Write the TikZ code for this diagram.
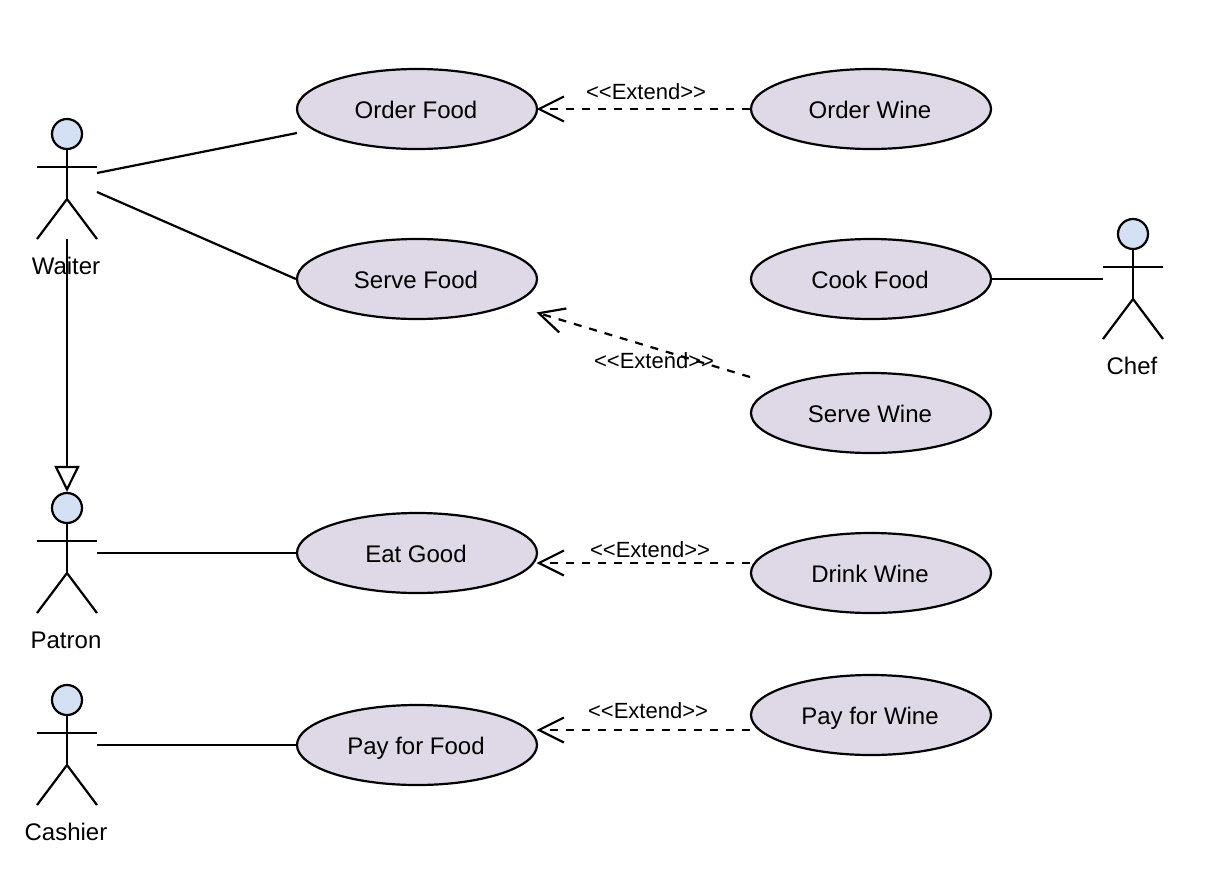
\documentclass[tikz,border=0pt]{standalone}
\usepackage{fontspec}
\setmainfont{Liberation Sans}
\usetikzlibrary{shapes.geometric,arrows.meta}
\definecolor{usecasefill}{HTML}{DFD8E6}
\definecolor{headfill}{HTML}{D4E1F5}
\tikzset{
  usecase/.style={ellipse,draw=black,fill=usecasefill,line width=2.2pt,minimum width=240pt,minimum height=80pt,inner sep=0pt,text height=19pt,text depth=0pt,execute at begin node=\hspace*{-2pt},font=\fontsize{24}{28}\selectfont},
  head/.style={circle,draw=black,fill=headfill,line width=2.2pt,minimum size=30pt,inner sep=0pt},
  limb/.style={line width=2.2pt,line cap=butt},
  actorlabel/.style={inner sep=0pt,text height=19pt,text depth=0pt,font=\fontsize{24}{28}\selectfont},
  extendlabel/.style={inner sep=0pt,font=\fontsize{22}{26}\selectfont},
  assoc/.style={line width=2.2pt},
  extendarrow/.style={line width=2.2pt,dash pattern=on 8pt off 8pt,-{Straight Barb[length=25pt,width=25pt,line width=2.2pt]}},
  inherit/.style={line width=2.2pt,-{Triangle[open,length=26pt,width=25pt,fill=white,line width=2.2pt]}}
}
\newcommand{\stickman}[3]{%
  \node[head] (#1head) at (#2,#3) {};
  \coordinate (#1arml) at (#2-30,#3+33);
  \coordinate (#1armr) at (#2+30,#3+33);
  \coordinate (#1chest) at (#2,#3+33);
  \coordinate (#1hip) at (#2,#3+65);
  \coordinate (#1footl) at (#2-30,#3+105);
  \coordinate (#1footr) at (#2+30,#3+105);
  \draw[limb] (#1head.south) -- (#1hip);
  \draw[limb] (#1arml) -- (#1armr);
  \draw[limb] (#1footl) -- (#1hip) -- (#1footr);
}
\begin{document}
\begin{tikzpicture}[x=1pt,y=-1pt]
\useasboundingbox (0,0) rectangle (1206,878);
% use cases
\node[usecase] (orderfood) at (417,109) {Order Food};
\node[usecase] (servefood) at (417,279) {Serve Food};
\node[usecase] (eatgood) at (417,553) {Eat Good};
\node[usecase] (payfood) at (417,745) {Pay for Food};
\node[usecase] (orderwine) at (871,109) {Order Wine};
\node[usecase] (cookfood) at (871,279) {Cook Food};
\node[usecase] (servewine) at (871,413) {Serve Wine};
\node[usecase] (drinkwine) at (871,573) {Drink Wine};
\node[usecase] (paywine) at (871,715) {Pay for Wine};
% actors
\stickman{waiter}{67}{134}
\stickman{chef}{1133}{234}
\stickman{patron}{67}{508}
\stickman{cashier}{67}{700}
\node[actorlabel] (waiterlabel) at (66,264.5) {Waiter};
\node[actorlabel] (cheflabel) at (1132,364.5) {Chef};
\node[actorlabel] (patronlabel) at (66,638.5) {Patron};
\node[actorlabel] (cashierlabel) at (66,830.5) {Cashier};
% free ends
\coordinate (waiterA) at (97,173);
\coordinate (waiterB) at (97,192);
\coordinate (orderfoodA) at (297,133);
\coordinate (waiterBase) at (67,239);
\coordinate (patronA) at (97,553);
\coordinate (cashierA) at (97,745);
\coordinate (chefA) at (1103,279);
\coordinate (ow) at (750,109);
\coordinate (ofe) at (536.5,109);
\coordinate (sw) at (750,377);
\coordinate (sfe) at (536.5,312.5);
\coordinate (dw) at (750,563);
\coordinate (ege) at (536.5,563);
\coordinate (pw) at (750,730);
\coordinate (pfe) at (536.5,730);
% associations
\draw[assoc] (waiterA) -- (orderfoodA);
\draw[assoc] (waiterB) -- (servefood.west);
\draw[assoc] (patronA) -- (eatgood.west);
\draw[assoc] (cashierA) -- (payfood.west);
\draw[assoc] (cookfood.east) -- (chefA);
\draw[inherit] (waiterBase) -- (patronhead.north);
% extends
\draw[extendarrow] (ow) -- (ofe);
\draw[extendarrow] (sw) -- (sfe);
\draw[extendarrow] (dw) -- (ege);
\draw[extendarrow] (pw) -- (pfe);
\node[extendlabel] (ext1) at (646,92) {<{}<Extend>{}>};
\node[extendlabel] (ext2) at (654,361) {<{}<Extend>{}>};
\node[extendlabel] (ext3) at (650,550) {<{}<Extend>{}>};
\node[extendlabel] (ext4) at (648,711) {<{}<Extend>{}>};
\end{tikzpicture}
\end{document}
